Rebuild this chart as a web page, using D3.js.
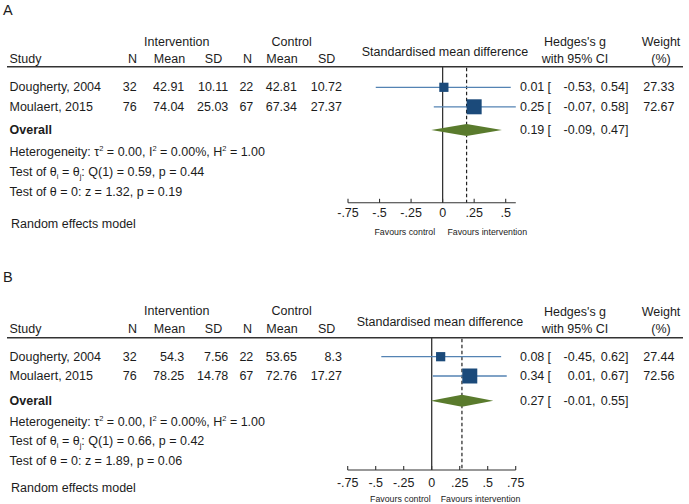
<!DOCTYPE html>
<html><head><meta charset="utf-8">
<script src="https://cdn.jsdelivr.net/npm/d3@7"></script>
<style>
html,body{margin:0;padding:0;background:#fff;}
svg{display:block;font-family:"Liberation Sans",Arial,Helvetica,sans-serif;}
</style></head>
<body><svg id="c" width="689" height="504"></svg>
<script>
// ---------- data ----------
const studies = ["Dougherty, 2004", "Moulaert, 2015"];

// Panel A
const aIntN = [32, 76], aIntMean = ["42.91", "74.04"], aIntSD = ["10.11", "25.03"];
const aCtlN = [22, 67], aCtlMean = ["42.81", "67.34"], aCtlSD = ["10.72", "27.37"];
const aG = [0.01, 0.25], aLo = [-0.53, -0.07], aHi = [0.54, 0.58];
const aWeight = [27.33, 72.67];
const aOverall = {g: 0.19, lo: -0.09, hi: 0.47};
const aStats = {tau2: "0.00", I2: "0.00%", H2: "1.00", Q: "0.59", pQ: "0.44", z: "1.32", pz: "0.19"};
const aTicks = [-0.75, -0.5, -0.25, 0, 0.25, 0.5];

// Panel B
const bIntN = [32, 76], bIntMean = ["54.3", "78.25"], bIntSD = ["7.56", "14.78"];
const bCtlN = [22, 67], bCtlMean = ["53.65", "72.76"], bCtlSD = ["8.3", "17.27"];
const bG = [0.08, 0.34], bLo = [-0.45, 0.01], bHi = [0.62, 0.67];
const bWeight = [27.44, 72.56];
const bOverall = {g: 0.27, lo: -0.01, hi: 0.55};
const bStats = {tau2: "0.00", I2: "0.00%", H2: "1.00", Q: "0.66", pQ: "0.42", z: "1.89", pz: "0.06"};
const bTicks = [-0.75, -0.5, -0.25, 0, 0.25, 0.5, 0.75];

// ---------- drawing ----------
const svg = d3.select("#c");
const TXT = "#1c1c1c", SQ = "#1b4a7a", CI = "#5483b3", DIA = "#5a7b2d";
const FS = 12.5;
const fmt2 = v => v.toFixed(2);
const tickFmt = v => v === 0 ? "0" : (v < 0 ? "-" : "") + String(Math.abs(v)).replace(/^0/, "");
const sizeScale = d3.scaleSqrt().domain([0, 100]).range([0, 17.6]);

function panel(cfg) {
  const g = svg.append("g");
  const t = (x, y, s, anchor, size, weight) => g.append("text")
    .attr("x", x).attr("y", y).attr("text-anchor", anchor || "start")
    .attr("dominant-baseline", "central").attr("fill", TXT)
    .style("font-size", (size || FS) + "px").style("font-weight", weight || "normal").text(s);

  const Y = cfg.y;
  t(3, Y.label, cfg.label, "start", 14.5);
  // headers
  t(176.7, Y.h1, "Intervention", "middle");
  t(291.7, Y.h1, "Control", "middle");
  t(9.5, Y.h2, "Study");
  [["N",132.5],["Mean",169.5],["SD",213.5],["N",247.5],["Mean",282],["SD",326.7]]
    .forEach(([s, x]) => t(x, Y.h2, s, "middle"));
  t(cfg.smdX, Y.smd, "Standardised mean difference", "middle");
  t(575, Y.h1 + 0.5, "Hedges's g", "middle");
  t(575, Y.h2, "with 95% CI", "middle");
  t(661, Y.h1 + 0.5, "Weight", "middle");
  t(661, Y.h2, "(%)", "middle");
  g.append("line").attr("x1", 7).attr("x2", 683).attr("y1", Y.rule).attr("y2", Y.rule)
    .attr("stroke", "#333").attr("stroke-width", 1.4);

  const ci = (yy, est, lo, hi) => {
    t(544.3, yy, fmt2(est), "end");
    t(547.5, yy, "[");
    t(595.5, yy, fmt2(lo) + ",", "end");
    t(628.5, yy, fmt2(hi) + "]", "end");
  };

  // rows
  const d = cfg.data;
  const x = d3.scaleLinear().domain([-0.75, cfg.dom1]).range([cfg.r0, cfg.r1]);
  d.studies.forEach((s, i) => {
    const yy = Y.rows[i];
    t(9.5, yy, s);
    t(136.7, yy, d.intN[i], "end");
    t(184.3, yy, d.intMean[i], "end");
    t(228.3, yy, d.intSD[i], "end");
    t(253.3, yy, d.ctlN[i], "end");
    t(297, yy, d.ctlMean[i], "end");
    t(342, yy, d.ctlSD[i], "end");
    ci(yy, d.g[i], d.lo[i], d.hi[i]);
    t(674.5, yy, fmt2(d.w[i]), "end");
  });
  t(9.5, Y.overall, "Overall", "start", FS, "bold");
  ci(Y.overall, d.ov.g, d.ov.lo, d.ov.hi);

  // stats lines
  const st = d.stats;
  const sup = (el, s) => el.append("tspan").attr("dy", -4).style("font-size", "7.5px").text(s);
  const back = (el, s, dy) => el.append("tspan").attr("dy", dy).text(s);
  let h = t(9.5, Y.het, "Heterogeneity: τ");
  sup(h, "2"); back(h, " = " + st.tau2 + ", I", 4); sup(h, "2"); back(h, " = " + st.I2 + ", H", 4);
  sup(h, "2"); back(h, " = " + st.H2, 4);
  let q = t(9.5, Y.testi, "Test of θ");
  q.append("tspan").attr("dy", 3.5).style("font-size", "7.5px").text("i");
  back(q, " = θ", -3.5);
  q.append("tspan").attr("dy", 3.5).style("font-size", "7.5px").text("j");
  back(q, ": Q(1) = " + st.Q + ", p = " + st.pQ, -3.5);
  t(9.5, Y.test0, "Test of θ = 0: z = " + st.z + ", p = " + st.pz);
  t(11, Y.random, "Random effects model");

  // plot
  const axMax = Math.max(cfg.dom1, d3.max(d.hi));
  g.append("line").attr("x1", x(0)).attr("x2", x(0)).attr("y1", Y.rule).attr("y2", Y.axis)
    .attr("stroke", "#333").attr("stroke-width", 1.3);
  g.append("line").attr("x1", x(d.ov.g)).attr("x2", x(d.ov.g)).attr("y1", Y.rule + 1).attr("y2", Y.axis)
    .attr("stroke", "#222").attr("stroke-width", 1.2).attr("stroke-dasharray", "3.5,2.5");

  d.studies.forEach((s, i) => {
    const yy = Y.rows[i];
    g.append("line").attr("x1", x(d.lo[i])).attr("x2", x(d.hi[i])).attr("y1", yy).attr("y2", yy)
      .attr("stroke", CI).attr("stroke-width", 1.3);
    const sz = sizeScale(d.w[i]);
    g.append("rect").attr("x", x(d.g[i]) - sz / 2).attr("y", yy - sz / 2)
      .attr("width", sz).attr("height", sz).attr("fill", SQ);
  });
  const oy = Y.overall, hh = 6;
  g.append("path").attr("d",
    `M${x(d.ov.lo)},${oy} L${x(d.ov.g)},${oy - hh} L${x(d.ov.hi)},${oy} L${x(d.ov.g)},${oy + hh} Z`)
    .attr("fill", DIA);

  // axis
  const axisG = g.append("g").attr("transform", `translate(0,${Y.axis})`);
  axisG.append("line").attr("x1", x(-0.75)).attr("x2", x(axMax)).attr("stroke", "#333").attr("stroke-width", 1.1);
  cfg.ticks.forEach(v => {
    axisG.append("line").attr("x1", x(v)).attr("x2", x(v)).attr("y1", 0).attr("y2", -4)
      .attr("stroke", "#333").attr("stroke-width", 1.1);
    axisG.append("text").attr("x", x(v)).attr("y", Y.tickLab - Y.axis).attr("text-anchor", "middle")
      .attr("dominant-baseline", "central").attr("fill", TXT).style("font-size", FS + "px").text(tickFmt(v));
  });
  t(x(0) + cfg.favC, Y.fav, "Favours control", "end", 8.8);
  t(x(0) + cfg.favI, Y.fav, "Favours intervention", "start", 8.8);
}

panel({
  label: "A", smdX: 445, r0: 348, dom1: 0.5, r1: 505.7, ticks: aTicks, favC: -7.5, favI: 4.8,
  y: {label: 10, h1: 41.5, h2: 59, smd: 51.5, rule: 66.7, rows: [87.3, 106.8], overall: 130,
      het: 152, testi: 172, test0: 192, random: 223.5, axis: 202.8, tickLab: 213.5, fav: 231.5},
  data: {studies, intN: aIntN, intMean: aIntMean, intSD: aIntSD, ctlN: aCtlN, ctlMean: aCtlMean, ctlSD: aCtlSD,
         g: aG, lo: aLo, hi: aHi, w: aWeight, ov: aOverall, stats: aStats}
});
panel({
  label: "B", smdX: 440, r0: 347.7, dom1: 0.75, r1: 515.7, ticks: bTicks, favC: -1, favI: 9,
  y: {label: 277, h1: 311, h2: 329, smd: 322.3, rule: 337.7, rows: [356.7, 376], overall: 400.7,
      het: 421.7, testi: 441, test0: 460.7, random: 487.7, axis: 470, tickLab: 483.3, fav: 499},
  data: {studies, intN: bIntN, intMean: bIntMean, intSD: bIntSD, ctlN: bCtlN, ctlMean: bCtlMean, ctlSD: bCtlSD,
         g: bG, lo: bLo, hi: bHi, w: bWeight, ov: bOverall, stats: bStats}
});
</script></body></html>
